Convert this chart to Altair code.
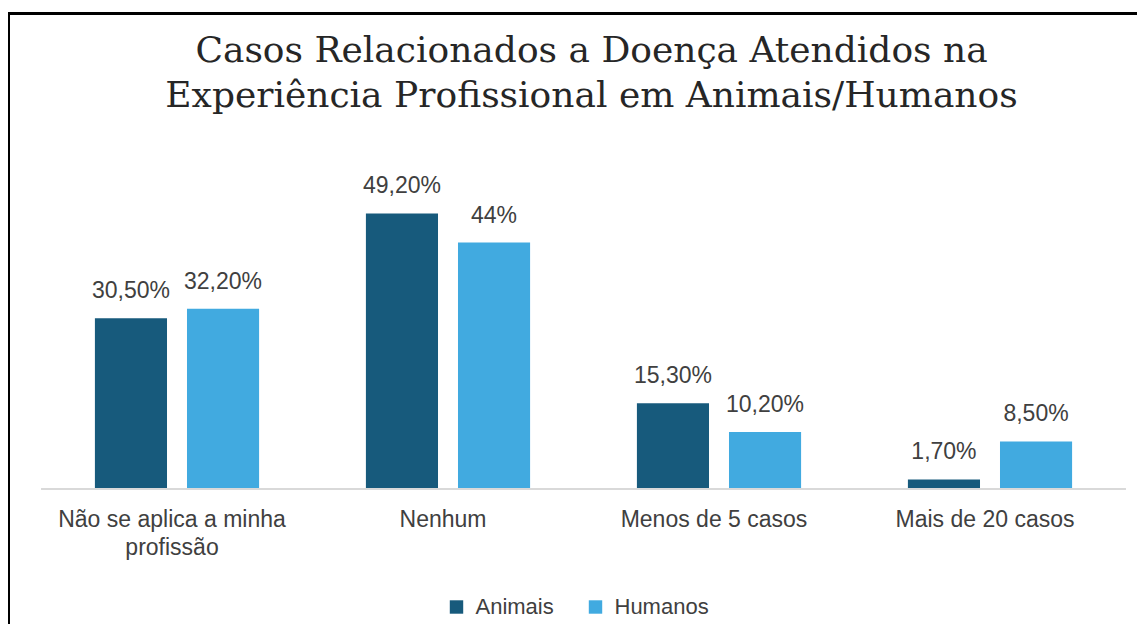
import altair as alt
import pandas as pd

categories = ["Não se aplica a minha profissão", "Nenhum", "Menos de 5 casos", "Mais de 20 casos"]
series = ["Animais", "Humanos"]
animais = [30.5, 49.2, 15.3, 1.7]
humanos = [32.2, 44.0, 10.2, 8.5]
labels_animais = ["30,50%", "49,20%", "15,30%", "1,70%"]
labels_humanos = ["32,20%", "44%", "10,20%", "8,50%"]
colors = ["#175a7c", "#41aae0"]

rows = []
for c, a, la in zip(categories, animais, labels_animais):
    rows.append({"cat": c, "serie": "Animais", "valor": a, "rotulo": la})
for c, h, lh in zip(categories, humanos, labels_humanos):
    rows.append({"cat": c, "serie": "Humanos", "valor": h, "rotulo": lh})
df = pd.DataFrame(rows)

FONT = "Liberation Sans"
TXT = "#404040"
W, H = 1084, 336

x_enc = alt.X("cat:N", sort=categories,
              scale=alt.Scale(paddingInner=0, paddingOuter=0),
              axis=alt.Axis(title=None, labelAngle=0, ticks=False, domain=False,
                            labelFont=FONT, labelFontSize=23, labelColor=TXT,
                            labelPadding=19, labelLimit=0, labelLineHeight=28, labelOffset=-5,
                            labelExpr="datum.value == 'Não se aplica a minha profissão' ? ['Não se aplica a minha', 'profissão'] : datum.value"))
xo_enc = alt.XOffset("serie:N", sort=series, scale=alt.Scale(paddingInner=0.217, paddingOuter=0.58))
y_enc = alt.Y("valor:Q", scale=alt.Scale(domain=[0, 60]), axis=None)

base = alt.Chart(df)

bars = base.mark_bar().encode(
    x=x_enc, xOffset=xo_enc, y=y_enc,
    color=alt.Color("serie:N", sort=series,
                    scale=alt.Scale(domain=series, range=colors),
                    legend=alt.Legend(title=None, orient="none", legendX=404, legendY=443,
                                      direction="horizontal", symbolType="square", symbolSize=180,
                                      symbolStrokeWidth=0,
                                      labelFont=FONT, labelFontSize=22, labelColor=TXT,
                                      columnPadding=30, labelOffset=8)),
)

baseline = base.mark_rule(color="#d9d9d9", strokeWidth=2).encode(
    y=alt.datum(0), x=alt.value(0), x2=alt.value(W)
)

texts = base.mark_text(font=FONT, fontSize=23, color=TXT, dy=-20, baseline="alphabetic").encode(
    x=alt.X("cat:N", sort=categories), xOffset=alt.XOffset("serie:N", sort=series), y="valor:Q",
    text="rotulo:N",
)

frame = alt.Chart(pd.DataFrame({"f": [0]})).mark_rect(filled=False, stroke="black", strokeWidth=3).encode(
    x=alt.value(-33), x2=alt.value(1200), y=alt.value(-139.5), y2=alt.value(700)
)

chart = alt.layer(bars, baseline, texts, frame).properties(
    width=W, height=H,
    padding={"left": 33.5, "top": 145, "right": 11.5, "bottom": 135},
    autosize=alt.AutoSizeParams(type="none"),
    background="white",
    title=alt.TitleParams(
        text=["Casos Relacionados a Doença Atendidos na", "Experiência Profissional em Animais/Humanos"],
        font="DejaVu Serif", fontSize=36, fontWeight="normal", color="#262626",
        lineHeight=45, anchor="middle", offset=-103, dx=8,
    ),
).configure_view(strokeWidth=0)

chart.save("out.html", embed_options={"renderer": "svg", "actions": False})
